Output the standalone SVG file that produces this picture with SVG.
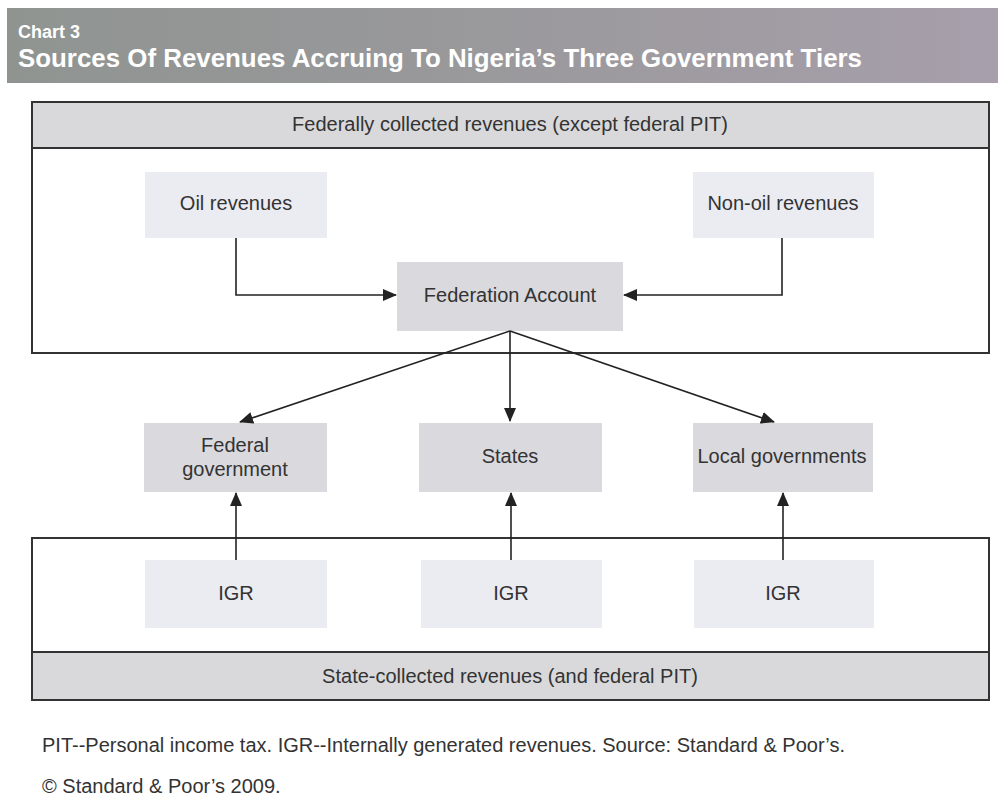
<svg xmlns="http://www.w3.org/2000/svg" width="998" height="808" viewBox="0 0 998 808">
  <defs>
    <linearGradient id="banner" x1="0" y1="0" x2="1" y2="0">
      <stop offset="0" stop-color="#8f9491"/>
      <stop offset="0.5" stop-color="#9a999c"/>
      <stop offset="1" stop-color="#a79fab"/>
    </linearGradient>
    <marker id="arr" markerUnits="userSpaceOnUse" markerWidth="14" markerHeight="12" refX="13" refY="6" orient="auto">
      <path d="M0,0 L14,6 L0,12 z" fill="#222"/>
    </marker>
  </defs>
  <style>
    .t { font-family: "Liberation Sans", Arial, sans-serif; font-size: 20px; fill: #333; }
    .c { text-anchor: middle; }
    .frame { fill: #fff; stroke: #333; stroke-width: 2; }
    .band { fill: #d9d9db; stroke: #333; stroke-width: 2; }
    .light { fill: #ebebf2; }
    .mid { fill: #d9d9de; }
    .conn { fill: none; stroke: #222; stroke-width: 1.6; marker-end: url(#arr); }
    .title { font-family: "Liberation Sans", Arial, sans-serif; font-weight: bold; fill: #fff; }
  </style>
  <rect width="998" height="808" fill="#fff"/>

  <g id="banner-group">
    <rect x="7" y="8" width="991" height="75" fill="url(#banner)"/>
    <text class="title" x="18" y="38" font-size="18">Chart 3</text>
    <text class="title" x="18" y="67" font-size="25.5" textLength="844" lengthAdjust="spacingAndGlyphs">Sources Of Revenues Accruing To Nigeria’s Three Government Tiers</text>
  </g>

  <g id="federal-frame">
    <rect class="frame" x="32" y="102" width="957" height="251"/>
    <rect class="band" x="32" y="102" width="957" height="46"/>
    <text class="t c" x="510" y="131">Federally collected revenues (except federal PIT)</text>
  </g>

  <g id="state-frame">
    <rect class="frame" x="32" y="538" width="957" height="162"/>
    <rect class="band" x="32" y="652" width="957" height="48"/>
    <text class="t c" x="510" y="683">State-collected revenues (and federal PIT)</text>
  </g>

  <g id="oil">
    <rect class="light" x="145" y="172" width="182" height="66"/>
    <text class="t c" x="236" y="210">Oil revenues</text>
  </g>
  <g id="nonoil">
    <rect class="light" x="693" y="172" width="181" height="66"/>
    <text class="t c" x="783" y="210">Non-oil revenues</text>
  </g>
  <g id="federation">
    <rect class="mid" x="397" y="262" width="226" height="69"/>
    <text class="t c" x="510" y="302">Federation Account</text>
  </g>
  <g id="fedgov">
    <rect class="mid" x="144" y="423" width="183" height="69"/>
    <text class="t c" x="235" y="452">Federal</text>
    <text class="t c" x="235" y="476">government</text>
  </g>
  <g id="states">
    <rect class="mid" x="419" y="423" width="183" height="69"/>
    <text class="t c" x="510" y="463">States</text>
  </g>
  <g id="local">
    <rect class="mid" x="693" y="423" width="180" height="69"/>
    <text class="t c" x="782" y="463">Local governments</text>
  </g>
  <g id="igr1">
    <rect class="light" x="145" y="560" width="182" height="68"/>
    <text class="t c" x="236" y="600">IGR</text>
  </g>
  <g id="igr2">
    <rect class="light" x="421" y="560" width="181" height="68"/>
    <text class="t c" x="511" y="600">IGR</text>
  </g>
  <g id="igr3">
    <rect class="light" x="694" y="560" width="180" height="68"/>
    <text class="t c" x="783" y="600">IGR</text>
  </g>

  <g id="connectors">
    <polyline class="conn" points="236,238 236,295 396,295"/>
    <polyline class="conn" points="782,238 782,295 624,295"/>
    <line class="conn" x1="510" y1="331" x2="240" y2="422"/>
    <line class="conn" x1="510" y1="331" x2="510" y2="421"/>
    <line class="conn" x1="510" y1="331" x2="774" y2="422"/>
    <line class="conn" x1="236" y1="560" x2="236" y2="493"/>
    <line class="conn" x1="511" y1="560" x2="511" y2="493"/>
    <line class="conn" x1="783" y1="560" x2="783" y2="493"/>
  </g>

  <g id="notes">
    <text class="t" x="42" y="752">PIT--Personal income tax. IGR--Internally generated revenues. Source: Standard &amp; Poor’s.</text>
    <text class="t" x="42" y="793">© Standard &amp; Poor’s 2009.</text>
  </g>
</svg>
